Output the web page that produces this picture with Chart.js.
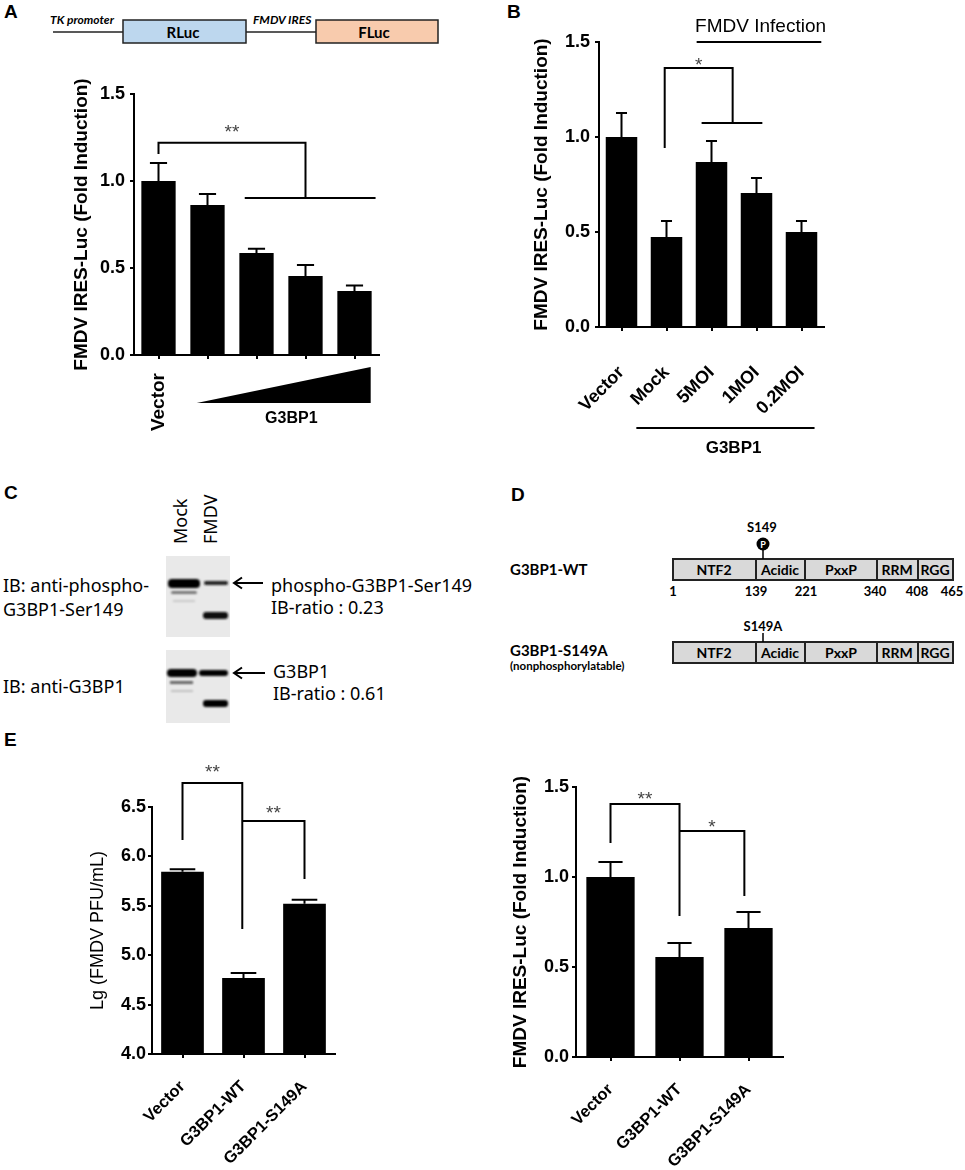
<!DOCTYPE html>
<html>
<head>
<meta charset="utf-8">
<script src="https://cdn.jsdelivr.net/npm/chart.js@4.4.0/dist/chart.umd.min.js"></script>
<style>
  html, body { margin: 0; padding: 0; background: #fff; }
  #page { position: relative; width: 965px; height: 1170px; overflow: hidden; }
  #page canvas { position: absolute; }
  #page svg { position: absolute; left: 0; top: 0; }
</style>
</head>
<body>
<div id="page">
<svg width="965" height="1170">
  <defs>
    <filter id="soft" x="-20%" y="-150%" width="140%" height="400%"><feGaussianBlur stdDeviation="1"/></filter>
  </defs>

  <!-- panel letters -->
  <g font-family="Liberation Sans, Arial" font-weight="bold" font-size="19" fill="#000">
    <text x="4" y="18">A</text>
    <text x="507" y="18">B</text>
    <text x="4" y="499">C</text>
    <text x="511" y="501">D</text>
    <text x="4" y="746">E</text>
  </g>

  <!-- A: reporter construct -->
  <g stroke="#222" stroke-width="1.5">
    <line x1="53" y1="32" x2="123" y2="32"/>
    <rect x="123" y="20" width="123" height="23" fill="#bdd7ee"/>
    <line x1="246" y1="32" x2="316" y2="32"/>
    <rect x="316" y="20" width="122" height="23" fill="#f8cbad"/>
  </g>
  <g font-family="Lato" font-weight="bold" font-style="italic" font-size="12" fill="#000">
    <text x="50" y="24">TK promoter</text>
    <text x="253" y="24">FMDV IRES</text>
  </g>
  <g font-family="Lato" font-weight="bold" font-size="15" text-anchor="middle" fill="#000">
    <text x="183" y="38">RLuc</text>
    <text x="374" y="38">FLuc</text>
  </g>

  <!-- C: immunoblots -->
  <g font-family="Noto Sans" font-size="18" fill="#000">
    <text transform="translate(187,544) rotate(-90)">Mock</text>
    <text transform="translate(217,544) rotate(-90)">FMDV</text>
    <text x="3" y="592">IB: anti-phospho-</text>
    <text x="3" y="616">G3BP1-Ser149</text>
    <text x="271" y="592">phospho-G3BP1-Ser149</text>
    <text x="271" y="614">IB-ratio : 0.23</text>
    <text x="3" y="693">IB: anti-G3BP1</text>
    <text x="273" y="678">G3BP1</text>
    <text x="273" y="700">IB-ratio : 0.61</text>
  </g>
  <rect x="166" y="556" width="64" height="81" fill="#e9e9e9"/>
  <rect x="166" y="650" width="64" height="73" fill="#e9e9e9"/>
  <g filter="url(#soft)">
    <rect x="168" y="579" width="32" height="9" rx="4" fill="#000"/>
    <rect x="171" y="591" width="26" height="3" rx="1.5" fill="#777"/>
    <rect x="173" y="600" width="22" height="2" fill="#c8c8c8"/>
    <rect x="204" y="581" width="24" height="4" rx="2" fill="#222"/>
    <rect x="203" y="612" width="25" height="7" rx="3" fill="#111"/>
    <rect x="167" y="669" width="30" height="8" rx="4" fill="#000"/>
    <rect x="170" y="681" width="23" height="3" fill="#666"/>
    <rect x="171" y="690" width="22" height="2" fill="#c0c0c0"/>
    <rect x="199" y="670" width="29" height="6" rx="3" fill="#000"/>
    <rect x="203" y="700" width="25" height="7" rx="3" fill="#000"/>
  </g>
  <g stroke="#000" stroke-width="2" fill="none">
    <line x1="235" y1="583" x2="263" y2="583"/>
    <polyline points="242,577.5 234,583 242,588.5"/>
    <line x1="235" y1="673" x2="265" y2="673"/>
    <polyline points="242,667.5 234,673 242,678.5"/>
  </g>

  <!-- D: domain diagram -->
  <g font-family="Lato" font-weight="bold" fill="#000">
    <text x="510" y="575" font-size="15">G3BP1-WT</text>
    <text x="510" y="656" font-size="15">G3BP1-S149A</text>
    <text x="510" y="670" font-size="11.5">(nonphosphorylatable)</text>
  </g>
  <g stroke="#222" stroke-width="2" fill="#d9d9d9">
    <rect x="673" y="559" width="280" height="21"/>
    <line x1="756" y1="559" x2="756" y2="580"/>
    <line x1="805" y1="559" x2="805" y2="580"/>
    <line x1="877" y1="559" x2="877" y2="580"/>
    <line x1="918" y1="559" x2="918" y2="580"/>
    <rect x="673" y="642" width="280" height="21"/>
    <line x1="756" y1="642" x2="756" y2="663"/>
    <line x1="805" y1="642" x2="805" y2="663"/>
    <line x1="877" y1="642" x2="877" y2="663"/>
    <line x1="918" y1="642" x2="918" y2="663"/>
  </g>
  <g stroke="#000" stroke-width="1.5">
    <line x1="763" y1="550" x2="763" y2="559"/>
    <line x1="763" y1="633" x2="763" y2="642"/>
  </g>
  <circle cx="763" cy="544" r="6.5" fill="#000"/>
  <text x="763" y="547.5" font-family="Lato" font-weight="bold" font-size="9" fill="#fff" text-anchor="middle">P</text>
  <g font-family="Lato" font-weight="bold" font-size="14" text-anchor="middle" fill="#000">
    <text x="714" y="575">NTF2</text>
    <text x="780" y="575">Acidic</text>
    <text x="841" y="575">PxxP</text>
    <text x="897" y="575">RRM</text>
    <text x="935" y="575">RGG</text>
    <text x="714" y="658">NTF2</text>
    <text x="780" y="658">Acidic</text>
    <text x="841" y="658">PxxP</text>
    <text x="897" y="658">RRM</text>
    <text x="935" y="658">RGG</text>
  </g>
  <g font-family="Lato" font-weight="bold" font-size="13" text-anchor="middle" fill="#000">
    <text x="673" y="596">1</text>
    <text x="756" y="596">139</text>
    <text x="806" y="596">221</text>
    <text x="875" y="596">340</text>
    <text x="917" y="596">408</text>
    <text x="952" y="596">465</text>
    <text x="762" y="532">S149</text>
    <text x="763" y="631">S149A</text>
  </g>
</svg>

<canvas id="chartA" width="315" height="390" style="left:70px;top:55px"></canvas>
<canvas id="chartB" width="300" height="455" style="left:530px;top:10px"></canvas>
<canvas id="chartTiter" width="254" height="420" style="left:87px;top:750px"></canvas>
<canvas id="chartLuci" width="280" height="420" style="left:509px;top:750px"></canvas>
</div>

<script>
// ---- data ----
// A: FMDV IRES activity vs increasing G3BP1
const catsA = ['Vector', '', '', '', ''];
const valsA = [1.0, 0.862, 0.586, 0.454, 0.368];
const errsA = [0.103, 0.063, 0.024, 0.063, 0.032];
const ticksA = [0, 0.5, 1.0, 1.5];
// [from, to, top, left end, right end, label, gap]
const bracketsA = [[0, 3, 1.22, 1.155, 0.902, '**', 16]];
const groupLinesA = [[1.76, 4.43, 0.902]];

// B: G3BP1 + FMDV infection
const catsB = ['Vector', 'Mock', '5MOI', '1MOI', '0.2MOI'];
const valsB = [1.0, 0.474, 0.868, 0.705, 0.50];
const errsB = [0.126, 0.084, 0.111, 0.079, 0.058];
const ticksB = [0, 0.5, 1.0, 1.5];
const bracketsB = [[0.96, 2.47, 1.363, 0.942, 1.074, '*', 8]];
const groupLinesB = [[1.78, 3.13, 1.074]];

// E: virus titer and IRES activity
const catsE = ['Vector', 'G3BP1-WT', 'G3BP1-S149A'];
const titerE = [5.845, 4.77, 5.52];
const titerErrE = [0.025, 0.05, 0.04];
const ticksTiter = [4.0, 4.5, 5.0, 5.5, 6.0, 6.5];
const bracketsTiter = [[0, 0.98, 6.743, 6.166, 5.265, '**', 16], [0.98, 2, 6.358, null, 5.77, '**', 13]];

const luciE = [1.0, 0.556, 0.717];
const luciErrE = [0.083, 0.077, 0.089];
const ticksLuci = [0, 0.5, 1.0, 1.5];
const bracketsLuci = [[0, 1, 1.406, 1.189, 0.783, '**', 10], [1, 1.94, 1.256, null, 0.894, '*', 9]];

const FONT = '"Liberation Sans", Arial, sans-serif';

function label(ctx, txt, x, y, font) {
  ctx.font = font;
  ctx.fillStyle = '#000';
  ctx.textAlign = 'center';
  ctx.textBaseline = 'middle';
  ctx.fillText(txt, x, y);
}

function hline(ctx, x1, x2, y) {
  ctx.beginPath(); ctx.moveTo(x1, y); ctx.lineTo(x2, y); ctx.stroke();
}

// error bars, significance brackets and extra annotations
function marks(o) {
  return {
    id: 'marks',
    afterDatasetsDraw(chart) {
      const ctx = chart.ctx;
      const xs = chart.scales.x, ys = chart.scales.y;
      const bars = chart.getDatasetMeta(0).data;
      const p0 = xs.getPixelForValue(0), p1 = xs.getPixelForValue(1);
      const fx = f => p0 + f * (p1 - p0);
      const fy = v => ys.getPixelForValue(v);
      ctx.save();
      ctx.strokeStyle = '#000';
      ctx.lineWidth = 2;

      o.vals.forEach((v, i) => {
        const x = bars[i].x, half = bars[i].width * o.cap / 2;
        const yTop = fy(v + o.errs[i]);
        ctx.beginPath();
        ctx.moveTo(x, fy(v)); ctx.lineTo(x, yTop);
        ctx.moveTo(x - half, yTop); ctx.lineTo(x + half, yTop);
        ctx.stroke();
      });

      (o.brackets || []).forEach(([a, b, top, yl, yr, txt, gap]) => {
        const xa = fx(a), xb = fx(b), yt = fy(top);
        ctx.beginPath();
        if (yl != null) { ctx.moveTo(xa, fy(yl)); ctx.lineTo(xa, yt); } else ctx.moveTo(xa, yt);
        ctx.lineTo(xb, yt);
        if (yr != null) ctx.lineTo(xb, fy(yr));
        ctx.stroke();
        ctx.font = '19px ' + FONT;
        ctx.fillStyle = '#444';
        ctx.textAlign = 'center';
        ctx.textBaseline = 'alphabetic';
        ctx.fillText(txt, (xa + xb) / 2, yt - gap + 19 * 0.58);
      });

      (o.lines || []).forEach(([a, b, y]) => hline(ctx, fx(a), fx(b), fy(y)));

      if (o.extra) o.extra(ctx, fx, chart.chartArea);
      ctx.restore();
    }
  };
}

function barChart(id, o) {
  const tickFont = { family: FONT, size: 18, weight: 'bold' };
  return new Chart(document.getElementById(id), {
    type: 'bar',
    data: {
      labels: o.cats,
      datasets: [{ data: o.vals, backgroundColor: '#000', barPercentage: 0.7, categoryPercentage: 1 }]
    },
    options: {
      responsive: false,
      animation: false,
      layout: { padding: { top: o.padTop, right: 6, left: 0, bottom: 0 } },
      plugins: { legend: { display: false }, tooltip: { enabled: false } },
      scales: {
        x: {
          offset: true,
          grid: { offset: false, drawOnChartArea: false, color: '#000', lineWidth: 2, tickLength: 4 },
          border: { color: '#000', width: 2 },
          ticks: {
            color: '#000', autoSkip: false, padding: o.xPad,
            minRotation: o.rot, maxRotation: o.rot,
            font: { family: FONT, size: o.xFont, weight: 'bold' }
          },
          afterFit: s => { s.height = o.xH; s.paddingLeft = 0; s.paddingRight = 0; }
        },
        y: {
          min: o.ticks[0],
          max: o.ticks[o.ticks.length - 1],
          afterBuildTicks: s => { s.ticks = o.ticks.map(v => ({ value: v })); },
          grid: { drawOnChartArea: false, color: '#000', lineWidth: 2, tickLength: 4 },
          border: { color: '#000', width: 2 },
          ticks: { color: '#000', font: tickFont, padding: o.yPad, callback: v => v.toFixed(1) },
          title: {
            display: true, text: o.title, color: '#000', padding: 0,
            font: { family: FONT, size: o.titleSize, weight: o.titleWeight }
          },
          afterFit: s => { s.width = o.yW; s.paddingTop = 0; s.paddingBottom = 0; }
        }
      }
    },
    plugins: [marks(o)]
  });
}

barChart('chartA', {
  cats: catsA, vals: valsA, errs: errsA, ticks: ticksA,
  brackets: bracketsA, lines: groupLinesA, cap: 0.5,
  title: 'FMDV IRES-Luc (Fold Induction)', titleSize: 19, titleWeight: 'bold',
  padTop: 39, yW: 64, xH: 90, yPad: 5, xPad: 14, rot: 90, xFont: 19,
  extra(ctx, fx, area) {
    const b = area.bottom;
    ctx.beginPath();
    ctx.moveTo(fx(0.78), b + 48); ctx.lineTo(fx(4.33), b + 48); ctx.lineTo(fx(4.33), b + 12);
    ctx.closePath();
    ctx.fillStyle = '#000';
    ctx.fill();
    label(ctx, 'G3BP1', fx(2.71), b + 64, 'bold 16px ' + FONT);
  }
});

barChart('chartB', {
  cats: catsB, vals: valsB, errs: errsB, ticks: ticksB,
  brackets: bracketsB, lines: groupLinesB, cap: 0.35,
  title: 'FMDV IRES-Luc (Fold Induction)', titleSize: 19, titleWeight: 'bold',
  padTop: 32, yW: 69, xH: 138, yPad: 5, xPad: 31, rot: 45, xFont: 18,
  extra(ctx, fx, area) {
    hline(ctx, fx(1.67), fx(4.44), area.top);
    label(ctx, 'FMDV Infection', fx(3.09), area.top - 15, '19px ' + FONT);
    hline(ctx, fx(0.33), fx(4.29), area.bottom + 101);
    label(ctx, 'G3BP1', fx(2.49), area.bottom + 121, 'bold 17px ' + FONT);
  }
});

barChart('chartTiter', {
  cats: catsE, vals: titerE, errs: titerErrE, ticks: ticksTiter,
  brackets: bracketsTiter, cap: 0.6,
  title: 'Lg (FMDV PFU/mL)', titleSize: 18, titleWeight: 'normal',
  padTop: 57, yW: 65, xH: 116, yPad: 2, xPad: 19, rot: 45, xFont: 16.5
});

barChart('chartLuci', {
  cats: catsE, vals: luciE, errs: luciErrE, ticks: ticksLuci,
  brackets: bracketsLuci, cap: 0.5,
  title: 'FMDV IRES-Luc (Fold Induction)', titleSize: 19, titleWeight: 'bold',
  padTop: 37, yW: 67, xH: 113, yPad: 3, xPad: 19, rot: 45, xFont: 16.5
});
</script>
</body>
</html>
